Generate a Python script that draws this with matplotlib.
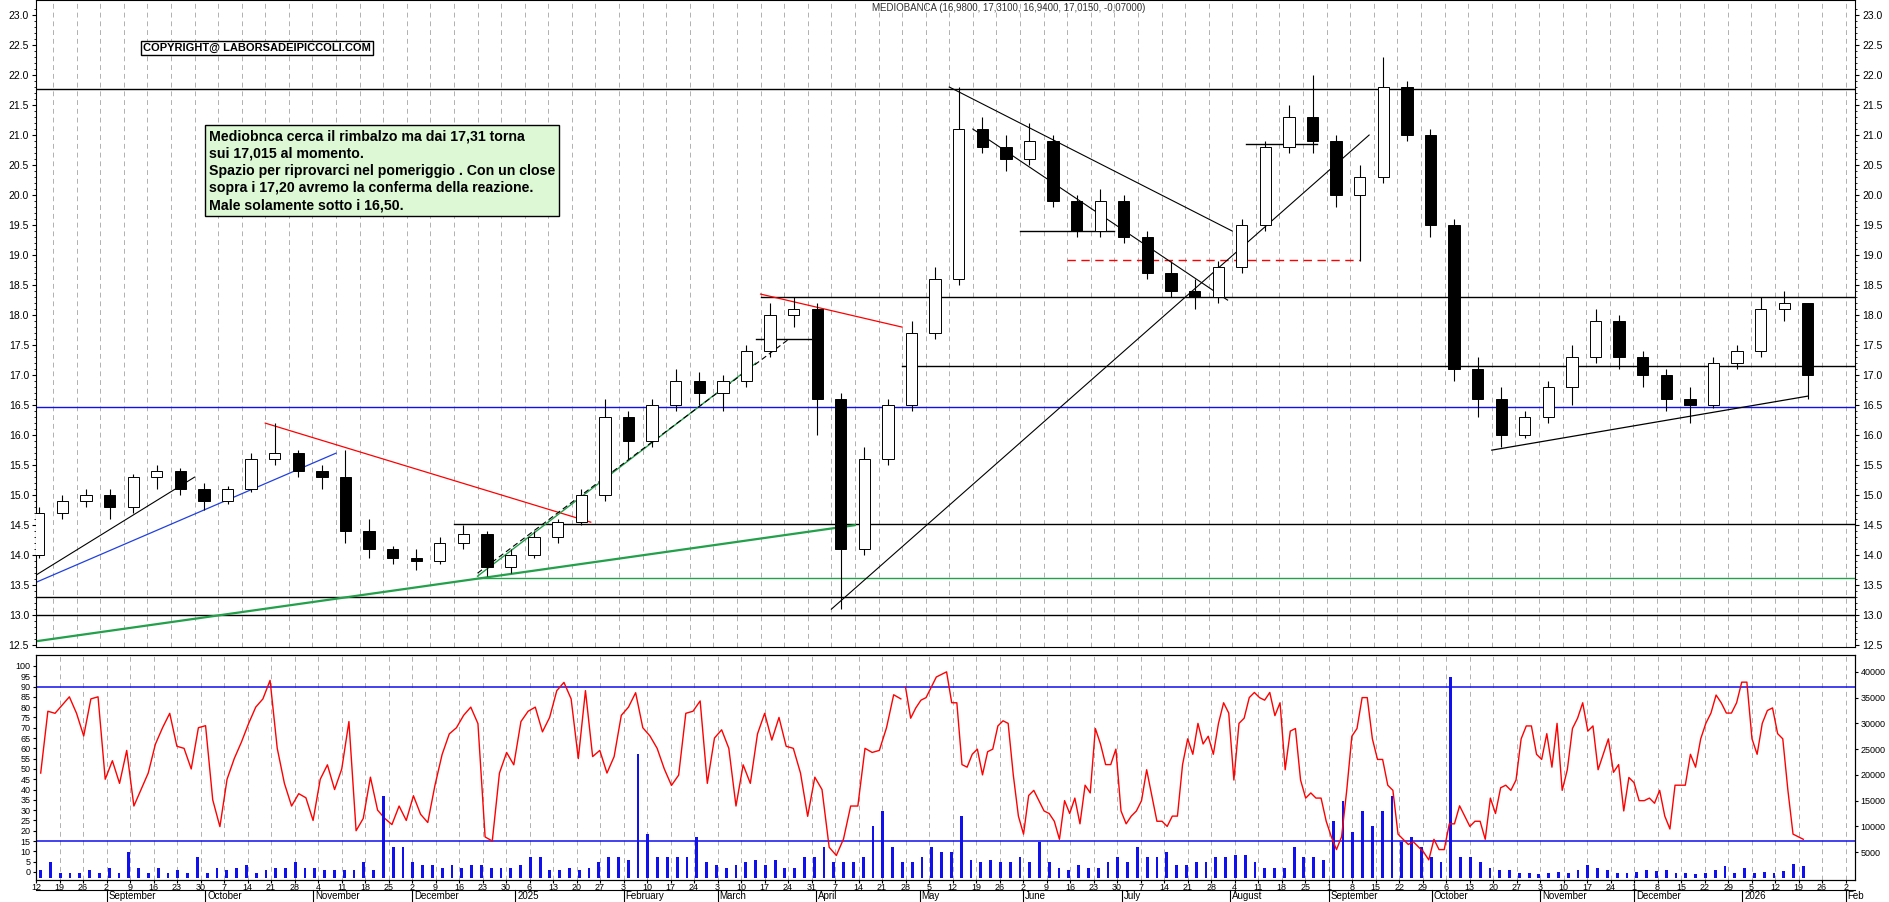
import numpy as np, pandas as pd
import matplotlib
matplotlib.use("Agg")
import matplotlib.pyplot as plt
from matplotlib.patches import Rectangle

plt.rcParams['font.family'] = ['Liberation Sans Narrow', 'Liberation Sans', 'DejaVu Sans']

week_starts = pd.date_range("2024-08-12", "2026-01-19", freq="W-MON")
opens  = [14.0,14.7,14.9,15.0,14.8,15.3,15.4,15.1,14.9,15.1,15.6,15.7,15.4,15.3,14.4,14.1,13.95,13.9,14.2,14.35,13.8,14.0,14.3,14.55,15.0,16.3,15.9,16.5,16.9,16.7,16.9,17.4,18.0,18.1,16.6,14.1,15.6,16.5,17.7,18.6,21.1,20.8,20.6,20.9,19.9,19.4,19.9,19.3,18.7,18.4,18.3,18.8,19.5,20.8,21.3,20.9,20.0,20.3,21.8,21.0,19.5,17.1,16.6,16.0,16.3,16.8,17.3,17.9,17.3,17.0,16.6,16.5,17.2,17.4,18.1,18.2]
highs  = [14.8,15.0,15.1,15.1,15.35,15.5,15.45,15.2,15.15,15.7,16.2,15.75,15.5,15.75,14.6,14.15,14.1,14.3,14.5,14.4,14.1,14.4,14.6,15.1,16.6,16.4,16.6,17.1,17.05,17.0,17.5,18.2,18.3,18.2,16.7,15.8,16.6,17.9,18.8,21.8,21.3,21.0,21.2,21.0,20.0,20.1,20.0,19.4,18.9,18.6,18.9,19.6,20.9,21.5,22.0,21.0,20.5,22.3,21.9,21.1,19.6,17.3,16.8,16.4,16.9,17.5,18.1,18.0,17.4,17.1,16.8,17.3,17.5,18.3,18.4,18.2]
lows   = [13.95,14.6,14.8,14.6,14.7,15.1,15.0,14.75,14.85,15.05,15.5,15.3,15.1,14.2,13.95,13.85,13.75,13.85,14.1,13.65,13.7,13.95,14.2,14.5,14.9,15.6,15.8,16.4,16.5,16.4,16.8,17.3,17.8,16.0,13.1,14.0,15.5,16.4,17.6,18.5,20.7,20.4,20.5,19.8,19.3,19.3,19.2,18.6,18.3,18.1,18.2,18.7,19.4,20.7,20.7,19.8,18.9,20.2,20.9,19.3,16.9,16.3,15.8,15.95,16.2,16.5,17.2,17.1,16.8,16.4,16.2,16.45,17.1,17.3,17.9,16.6]
closes = [14.7,14.9,15.0,14.8,15.3,15.4,15.1,14.9,15.1,15.6,15.7,15.4,15.3,14.4,14.1,13.95,13.9,14.2,14.35,13.8,14.0,14.3,14.55,15.0,16.3,15.9,16.5,16.9,16.7,16.9,17.4,18.0,18.1,16.6,14.1,15.6,16.5,17.7,18.6,21.1,20.8,20.6,20.9,19.9,19.4,19.9,19.3,18.7,18.4,18.3,18.8,19.5,20.8,21.3,20.9,20.0,20.3,21.8,21.0,19.5,17.1,16.6,16.0,16.3,16.8,17.3,17.9,17.3,17.0,16.6,16.5,17.2,17.4,18.1,18.2,17.0]

osc1 = [48,78,77,81,85,77,66,84,85,45,54,43,59,32,40,48,62,70,77,61,60,50,70,71,
        35,22,45,55,63,72,80,84,93,60,43,32,38,36,25,45,52,40,50,73,20,26,46,30,26,23,32,25,37,28,
        24,42,57,67,70,76,80,72,17,15,48,58,52,73,78,80,68,75,88,92,84,55,88,56,59,48,
        56,76,80,87,70,66,60,50,42,47,77,78,83,43,65,69,60,32,52,43,67,77,64,75,61,60,
        48,27,46,40,12,8,16,32,32,60,58,59,70,86,84]
osc2_k = [37,31,33,34.5,35,37,39,39.5,40,34,34,22,21.5,24,25,20,24.5,25,29.5,30.5,30,20,12,8.5,16,17,15,13,12.5,11,7.5,15,12.5,15.5,10.5,18,16.5,29,26,22,22,25,13,10.5,12,13,15,21,16,11,11,10,12,12,22,27,24,30,26,27.5,24,30,34,32,19,30,31,35,36,35,34.5,36,31.5,34,21,28.5,29,19,15.5,16.5,15.5,15.5,11,8,5.5,8,17,27.5,29,35,35,27,23,23,18,17,8.5,7.5,6.5,7,6,5,3.5,7.5,5.5,5.5,10.5,10.5,14,12,10,11,11,7.5,15.5,12.5,17.5,18,17,19,27,29.5,29.5,24,23,28,21.5,30,17,21,29,31,34,28.5,29.5,21,24,27,20.5,22,13,19.5,18.5,15,15,15.5,14.5,17,12,9.5,18,18,18,24,21.5,27,30,32,35.5,34,32,32,34,38,38,27,24,30,32.5,33,28,27,17,8.5,8,7.5]
volume_k = [1.5,3,1,1,1,1.5,1,2,1,5,2,1,2,1,1.5,1,4,1,2,1.5,2,2.5,1,1.5,2,2,3,2,2,1.5,1.5,1.5,
            1.5,3,1.5,16,6,6,3,2.5,2.5,2,2.5,2,2.5,2.5,2,2,2,2.5,4,4,1.5,1.5,2,1.5,2,3,4,4,3.5,24,8.5,4,
            4,4,4,8,3,2.5,2,2.5,3,3.5,2.5,3.5,2,2,4,4,6,3,3,3,4,10,13,6,3,3,4,6,
            5,5,12,3.5,3,3.5,3,3,4,3,7,3,2,1.5,2.5,2,2,3,4,3,6,4,4,5,2.5,2.5,3,3,4,4,
            4.5,4.5,3,2,2,2,6,4,4,3.5,11,15,9,13,10,13,16,7,8,6,4,3,39,4,4,3,2,1.5,1.5,1,1,0.8,1,1.2,
            1,1.5,2.5,2,1.5,1,1,1.2,1.5,1.3,1.5,1,1,0.8,1,1.5,2.3,1,2,1,1.2,1,1.3,2.8,2.3]

hlines = [  # price, start, end, color, style
    (21.77, None, None, 'black', '-'), (18.3, "2025-03-17", None, 'black', '-'),
    (17.15, "2025-04-28", None, 'black', '-'), (17.6, "2025-03-14", "2025-04-01", 'black', '-'),
    (14.52, "2024-12-16", None, 'black', '-'), (13.62, "2024-12-23", None, '#22a04a', '-'),
    (13.3, None, None, 'black', '-'), (13.0, None, None, 'black', '-'),
    (16.47, None, None, '#1010ee', '-'), (18.92, "2025-06-16", "2025-09-10", 'red', (0, (6, 4))),
    (19.4, "2025-06-02", "2025-06-30", 'black', '-'), (20.85, "2025-08-07", "2025-08-28", 'black', '-')]
tlines = [
    ("2024-08-12", 13.6, "2024-09-30", 15.3, 'black', '-', 0.8),
    ("2024-08-12", 13.5, "2024-11-11", 15.7, '#2040e0', '-', 0.9),
    ("2024-10-21", 16.2, "2025-01-24", 14.55, 'red', '-', 0.9),
    ("2024-08-12", 12.55, "2025-04-14", 14.5, '#22a04a', '-', 1.6),
    ("2024-12-23", 13.65, "2025-03-14", 17.2, '#22a04a', '-', 1.0),
    ("2024-12-23", 13.7, "2025-03-25", 17.6, 'black', (0, (5, 3)), 0.8),
    ("2025-03-17", 18.35, "2025-04-28", 17.8, 'red', '-', 0.9),
    ("2025-04-07", 13.1, "2025-09-12", 21.0, 'black', '-', 0.8),
    ("2025-05-12", 21.8, "2025-08-04", 19.4, 'black', '-', 0.8),
    ("2025-05-19", 21.1, "2025-08-01", 18.25, 'black', '-', 0.8),
    ("2025-10-20", 15.75, "2026-01-21", 16.65, 'black', '-', 0.9)]

bdays = pd.bdate_range("2024-08-01", "2026-02-27")
def xi(d):
    return bdays.get_indexer([pd.Timestamp(d)], method='bfill')[0]

W, H = 1890, 902
fig = plt.figure(figsize=(W/100, H/100), dpi=100)
L, R = 36/W, 1855/W
ax1 = fig.add_axes([L, 1-647/H, R-L, 647/H])
ax2 = fig.add_axes([L, 1-880/H, R-L, (880-655)/H])
ax2v = ax2.twinx()
x0, x1 = xi("2024-08-19")-3.6, xi("2026-02-02")+2
for a in (ax1, ax2, ax2v):
    a.set_xlim(x0, x1)
ax1.set_ylim(12.47, 23.25)
ax2.set_ylim(-3.9, 105.3)
ax2v.set_ylim(-400, 43270)

mondays = pd.date_range("2024-08-12", "2026-02-02", freq="W-MON")
for m in mondays:
    for a in (ax1, ax2):
        a.axvline(xi(m), color='#b0b0b0', ls=(0, (5, 4)), lw=0.7, zorder=0)

# candles
for d, o, h, l, c in zip(week_starts, opens, highs, lows, closes):
    x = xi(d) + 2
    ax1.vlines(x, l, h, color='black', lw=0.8, zorder=3)
    fc = 'white' if c >= o else 'black'
    ax1.add_patch(Rectangle((x-1.2, min(o, c)), 2.4, max(abs(c-o), 0.02), fc=fc, ec='black', lw=0.7, zorder=4))

for p, s, e, col, ls in hlines:
    xs = xi(s) if s else x0
    xe = xi(e) if e else x1
    ax1.plot([xs, xe], [p, p], color=col, ls=ls, lw=1.0, zorder=2)
for s, p1, e, p2, col, ls, lw in tlines:
    ax1.plot([xi(s), xi(e)], [p1, p2], color=col, ls=ls, lw=lw, zorder=2)

ticks = np.arange(12.5, 23.01, 0.5)
ax1.set_yticks(ticks)
ax1.set_yticks(np.arange(12.5, 23.2, 0.1), minor=True)
ax1.set_yticklabels([f"{t:.1f}" for t in ticks], fontsize=7.5)
ax1.tick_params(axis='y', which='both', right=True, labelright=True, direction='out', length=3, pad=2)
ax1.tick_params(axis='y', which='minor', length=1.5)
ax1.set_xticks([])

ax1.text(0.535, 0.995, "MEDIOBANCA (16,9800, 17,3100, 16,9400, 17,0150, -0,07000)", transform=ax1.transAxes,
         ha='center', va='top', fontsize=7, color='#333333')
ax1.text(xi("2024-09-13"), 22.45, "COPYRIGHT@ LABORSADEIPICCOLI.COM", fontsize=8, fontweight='bold',
         va='center', bbox=dict(fc='white', ec='black', lw=1, pad=1.5))
ax1.text(xi("2024-10-03"), 21.1, "Mediobnca cerca il rimbalzo ma dai 17,31 torna\nsui 17,015 al momento.\n"
         "Spazio per riprovarci nel pomeriggio . Con un close\nsopra i 17,20 avremo la conferma della reazione.\n"
         "Male solamente sotto i 16,50.", fontsize=10.2, fontweight='bold', va='top', linespacing=1.3,
         bbox=dict(fc='#dcf8d4', ec='black', lw=1, pad=3))

# oscillator & volume
xs1 = np.linspace(xi("2024-08-13"), xi("2025-04-25"), len(osc1))
xs2 = np.linspace(xi("2025-04-28"), xi("2026-01-20"), len(osc2_k))
xv = np.linspace(xi("2024-08-13"), xi("2026-01-20"), len(volume_k))
ax2v.bar(xv, np.array(volume_k)*1000, width=0.6, color='#1010ee', zorder=2)
ax2.plot(xs1, osc1, color='red', lw=1.0, zorder=3)
ax2v.plot(xs2, np.array(osc2_k)*1000, color='red', lw=1.0, zorder=3)
ax2.axhline(90, color='#1010ee', lw=1.1)
ax2.axhline(15, color='#1010ee', lw=1.1)
ax2.set_yticks(np.arange(0, 101, 5))
ax2.set_yticklabels([str(v) for v in range(0, 101, 5)], fontsize=6.5)
ax2v.set_yticks(np.arange(5000, 40001, 5000))
ax2v.set_yticklabels([str(v) for v in range(5000, 40001, 5000)], fontsize=6.5)
ax2.tick_params(axis='y', direction='out', length=2, pad=2)
ax2v.tick_params(axis='y', direction='out', length=2, pad=2)
ax2.set_xticks([xi(m) for m in mondays])
ax2.set_xticklabels([str(m.day) for m in mondays], fontsize=6.5)
ax2.tick_params(axis='x', length=2, pad=0.5)

fig.add_artist(plt.Line2D([L, R], [12/H]*2, color='black', lw=0.8))
months = pd.date_range("2024-09-01", "2026-02-01", freq="MS")
for m in months:
    xm = xi(m)
    lab = str(m.year) if m.month == 1 else m.strftime("%B")
    if m == months[-1]:
        lab = "Feb"
    fx = (ax2.transData.transform((xm, 0))[0]) / W
    fig.text(fx + 2/W, 6/H, lab, fontsize=7, ha='left', va='center')
    fig.add_artist(plt.Line2D([fx, fx], [0, 12/H], color='black', lw=0.8))
fig.savefig("out.png", dpi=100)
